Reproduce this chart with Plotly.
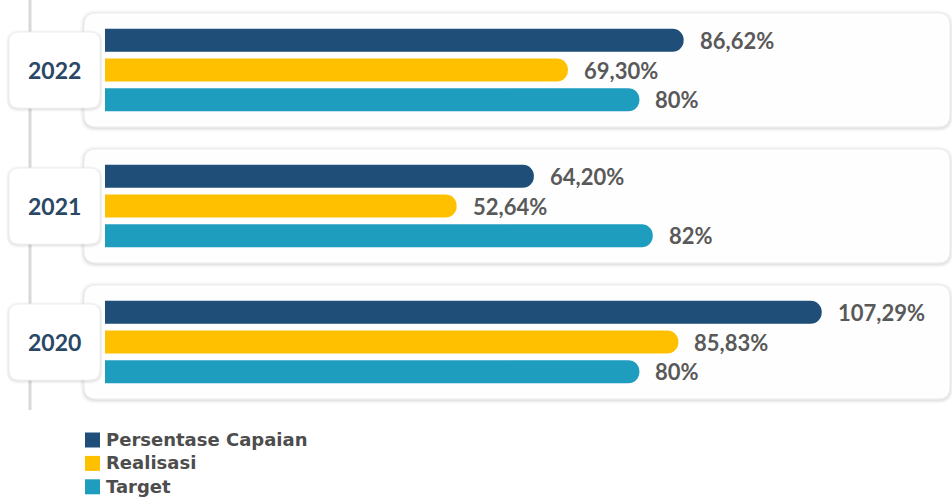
import plotly.graph_objects as go

# Data
years = ["2022", "2021", "2020"]
series_names = ["Persentase Capaian", "Realisasi", "Target"]
capaian = [86.62, 64.20, 107.29]
realisasi = [69.30, 52.64, 85.83]
target = [80, 82, 80]

colors = ["#1F4E79", "#FFC000", "#1F9DBF"]
series_values = [capaian, realisasi, target]

W, H = 952, 504
x0_px = 105          # pixel where 0% sits
px_per_unit = 6.68   # pixels per percentage point
group_center0 = 70   # pixel centre of first group
group_gap = 136      # pixel distance between groups
bar_gap = 29.7       # pixel distance between bars inside a group
bar_h = 23

FONT = "Lato"


def fmt(v):
    s = f"{v:.2f}".replace(".", ",")
    if s.endswith(",00"):
        s = s[:-3]
    return s + "%"


def rrect(x0, y0, x1, y1, r):
    return (f"M{x0+r},{y0} L{x1-r},{y0} Q{x1},{y0} {x1},{y0+r} "
            f"L{x1},{y1-r} Q{x1},{y1} {x1-r},{y1} L{x0+r},{y1} "
            f"Q{x0},{y1} {x0},{y1-r} L{x0},{y0+r} Q{x0},{y0} {x0+r},{y0} Z")


fig = go.Figure()

centers = [group_center0 + i * group_gap for i in range(len(years))]

for k, (name, vals, col) in enumerate(zip(series_names, series_values, colors)):
    ys = [c + (k - 1) * bar_gap for c in centers]
    fig.add_trace(go.Bar(
        x=vals, y=ys, orientation="h", width=bar_h,
        marker=dict(color=col, line=dict(width=0), cornerradius="50%"),
        name=name, hoverinfo="skip", showlegend=False,
    ))
    for v, y in zip(vals, ys):
        fig.add_annotation(
            x=v, y=y, xref="x", yref="y", text=fmt(v), showarrow=False,
            xanchor="left", yanchor="middle", xshift=14,
            font=dict(family=FONT, size=22, color="#595959", weight="bold"),
        )

shapes = []
# timeline rail
shapes.append(dict(type="line", xref="x2", yref="y", x0=30, x1=30, y0=0, y1=410,
                   line=dict(color="#D9D9D9", width=3), layer="below"))

for c, yr in zip(centers, years):
    # panel with a soft shadow
    for s, a in [(4, 0.015), (3, 0.02), (2, 0.03), (1, 0.04)]:
        shapes.append(dict(type="path", xref="x2", yref="y",
                           path=rrect(84 - s, c - 57 - s + 1, 950 + s, c + 57 + s + 1, 12 + s),
                           fillcolor=f"rgba(0,0,0,{a})", line=dict(width=0), layer="below"))
    shapes.append(dict(type="path", xref="x2", yref="y",
                       path=rrect(84, c - 57, 950, c + 57, 12),
                       fillcolor="#FEFEFE", line=dict(color="#EEEEEE", width=1), layer="below"))
    # year badge
    for s, a in [(3, 0.02), (2, 0.03), (1, 0.04)]:
        shapes.append(dict(type="path", xref="x2", yref="y",
                           path=rrect(9 - s, c - 38 - s + 1, 100 + s, c + 38 + s + 1, 10 + s),
                           fillcolor=f"rgba(0,0,0,{a})", line=dict(width=0), layer="below"))
    shapes.append(dict(type="path", xref="x2", yref="y",
                       path=rrect(9, c - 38, 100, c + 38, 10),
                       fillcolor="#FFFFFF", line=dict(color="#F0F0F0", width=1), layer="below"))
    fig.add_annotation(x=54, y=c, xref="x2", yref="y", text=yr, showarrow=False,
                       xanchor="center", yanchor="middle",
                       font=dict(family=FONT, size=23, color="#2A4866", weight="bold"))

# legend: colour swatches plus one stacked block of series names
legend_y0, legend_dy = 440, 23.4
for k, col in enumerate(colors):
    ly = legend_y0 + k * legend_dy
    shapes.append(dict(type="rect", xref="x2", yref="y", x0=85, x1=100,
                       y0=ly - 7.5, y1=ly + 7.5, fillcolor=col, line=dict(width=0)))
fig.add_annotation(x=105, y=legend_y0 + legend_dy * (len(series_names) - 1) / 2,
                   xref="x2", yref="y", text="<br>".join(series_names), showarrow=False,
                   xanchor="left", yanchor="middle", align="left", borderpad=0,
                   font=dict(family="DejaVu Sans", size=18, color="#4D4D4D", weight="bold"))

fig.update_layout(
    width=W, height=H, margin=dict(l=0, r=0, t=0, b=0),
    paper_bgcolor="white", plot_bgcolor="white",
    barmode="overlay", shapes=shapes, showlegend=False,
    xaxis=dict(range=[-x0_px / px_per_unit, (W - x0_px) / px_per_unit],
               visible=False, fixedrange=True),
    xaxis2=dict(range=[0, W], overlaying="x", visible=False),
    yaxis=dict(range=[H, 0], visible=False),
)

fig.write_html("out.html")
